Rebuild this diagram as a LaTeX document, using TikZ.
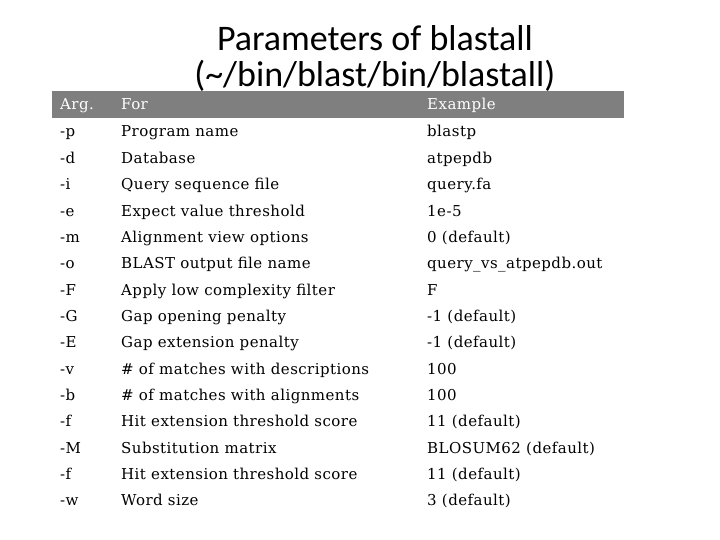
\documentclass[tikz,border=0pt]{standalone}
\usepackage{fontspec}
\setmainfont{DejaVu Serif}[LetterSpace=3]
\newfontfamily\titlefont{Carlito}
\begin{document}
\begin{tikzpicture}[x=1pt,y=-1pt,
  cell/.style={anchor=base west,inner sep=0pt,font=\fontsize{15}{17}\selectfont},
  hcell/.style={cell,text=white},
  ttl/.style={font=\titlefont\fontsize{36}{42}\selectfont,inner sep=0pt}]
\useasboundingbox (0,0) rectangle (720,540);
\node[ttl] (t1) at (375,38) {Parameters of blastall};
\node[ttl] (t2) at (375,76) {(\textasciitilde/bin/blast/bin/blastall)};
\fill[fill={rgb,255:red,127;green,127;blue,127}] (52,91) rectangle (624,118);
\node[hcell] (h1) at (60,110) {Arg.};
\node[hcell] (h2) at (121,110) {For};
\node[hcell] (h3) at (427,110) {Example};
\foreach \i/\a/\b/\c in {
 0/-p/Program name/blastp,
 1/-d/Database/atpepdb,
 2/-i/Query sequence file/query.fa,
 3/-e/Expect value threshold/1e-5,
 4/-m/Alignment view options/0 (default),
 5/-o/BLAST output file name/query\_vs\_atpepdb.out,
 6/-F/Apply low complexity filter/F,
 7/-G/Gap opening penalty/-1 (default),
 8/-E/Gap extension penalty/-1 (default),
 9/-v/\# of matches with descriptions/100,
 10/-b/\# of matches with alignments/100,
 11/-f/Hit extension threshold score/11 (default),
 12/-M/Substitution matrix/BLOSUM62 (default),
 13/-f/Hit extension threshold score/11 (default),
 14/-w/Word size/3 (default)} {
  \node[cell] (a\i) at (60,137+26.35*\i) {\a};
  \node[cell] (b\i) at (121,137+26.35*\i) {\b};
  \node[cell] (c\i) at (427,137+26.35*\i) {\c};
}
\end{tikzpicture}
\end{document}
